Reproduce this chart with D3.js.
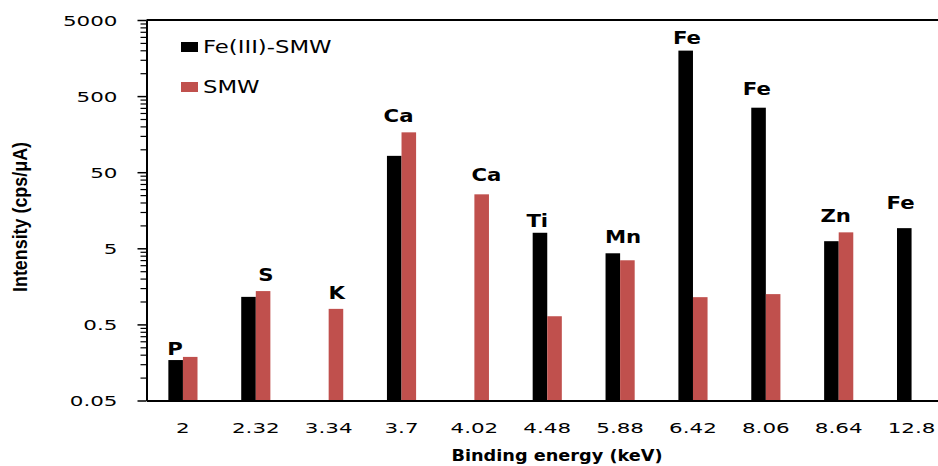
<!DOCTYPE html>
<html>
<head>
<meta charset="utf-8">
<script src="https://cdn.jsdelivr.net/npm/d3@7"></script>
<style>
  body { margin: 0; background: #fff; }
  svg { display: block; }
</style>
</head>
<body>
<svg id="chart"></svg>
<script>
// Data
const energies = ["2", "2.32", "3.34", "3.7", "4.02", "4.48", "5.88", "6.42", "8.06", "8.64", "12.8"];
const elements = ["P", "S", "K", "Ca", "Ca", "Ti", "Mn", "Fe", "Fe", "Zn", "Fe"];
const feSmw = [0.17, 1.15, null, 82, null, 8.0, 4.3, 1980, 352, 6.2, 9.2];
const smw = [0.187, 1.37, 0.8, 167, 25.6, 0.64, 3.48, 1.14, 1.25, 8.1, null];
const seriesNames = ["Fe(III)-SMW", "SMW"];
const yTicks = [0.05, 0.5, 5, 50, 500, 5000];
// small nudges for the element labels (px), as placed in the original
const labelNudge = [-8, 10, 8, -3, 12, -10, 3, -6, -9, -3, -11];
const labelLift = [2, 10, 10, 10, 13, 6, 10, 7, 13, 10, 19];

const width = 938, height = 466;
const colors = ["#000000", "#c0504d"];
const svg = d3.select("#chart").attr("width", width).attr("height", height);

const mLeft = 146.5, mTop = 20, mBottom = 400.5, mRight = 948;

const x = d3.scaleBand().domain(energies).range([mLeft, mRight])
  .paddingInner(0.6).paddingOuter(0.3);
const xs = d3.scaleBand().domain([0, 1]).range([0, x.bandwidth()]);
const y = d3.scaleLog().domain([0.05, 5000]).range([mBottom, mTop]);

const rows = energies.map((e, i) => ({ e, el: elements[i], vals: [feSmw[i], smw[i]], i }));

// bars
const grp = svg.append("g").selectAll("g").data(rows).join("g")
  .attr("transform", (d) => `translate(${x(d.e)},0)`);
grp.selectAll("rect")
  .data((d) => d.vals.map((v, k) => ({ v, k })).filter((b) => b.v != null))
  .join("rect")
  .attr("x", (b) => xs(b.k))
  .attr("width", xs.bandwidth())
  .attr("y", (b) => y(b.v))
  .attr("height", (b) => mBottom - y(b.v))
  .attr("fill", (b) => colors[b.k]);

// element labels
svg.append("g").selectAll("text").data(rows).join("text")
  .attr("transform", (d) => {
    const hi = d3.max(d.vals.filter((v) => v != null));
    return `translate(${x(d.e) + x.bandwidth() / 2 + labelNudge[d.i]},${y(hi) - labelLift[d.i]}) scale(1.18,1)`;
  })
  .attr("text-anchor", "middle")
  .attr("font-family", "DejaVu Sans")
  .attr("font-weight", "bold")
  .attr("font-size", 18)
  .text((d) => d.el);

// y axis minor ticks
const minor = [];
yTicks.slice(0, -1).forEach((t) => {
  for (let k = 2; k <= 9; k++) minor.push(t * k);
});
svg.append("g").attr("transform", `translate(${mLeft},0)`)
  .call(d3.axisLeft(y).tickValues(minor).tickSize(6).tickSizeOuter(0).tickFormat(""))
  .call((g) => g.select(".domain").remove())
  .call((g) => g.selectAll("line").attr("stroke-width", 1.2));

// y axis major
const yAxisG = svg.append("g").attr("transform", `translate(${mLeft},0)`)
  .call(d3.axisLeft(y).tickValues(yTicks).tickSize(9).tickSizeOuter(0).tickFormat((d) => String(d)));
yAxisG.select(".domain").attr("stroke-width", 2);
yAxisG.selectAll("line").attr("stroke-width", 1.5);
yAxisG.selectAll("text")
  .attr("x", 0)
  .attr("dy", "0.36em")
  .attr("transform", "translate(-29,0) scale(1.47,1)")
  .attr("font-family", "DejaVu Sans")
  .attr("font-size", 14.6)
  .attr("fill", "#000");

// x axis
const xAxisG = svg.append("g").attr("transform", `translate(0,${mBottom})`)
  .call(d3.axisBottom(x).tickSize(0).tickSizeOuter(0).tickPadding(22));
xAxisG.select(".domain").attr("stroke-width", 2);
xAxisG.selectAll("text")
  .attr("transform", "scale(1.47,1)")
  .attr("font-family", "DejaVu Sans")
  .attr("font-size", 14.6)
  .attr("fill", "#000");

// top frame line
svg.append("line")
  .attr("x1", mLeft).attr("x2", mRight).attr("y1", mTop).attr("y2", mTop)
  .attr("stroke", "#000").attr("stroke-width", 2);

// axis titles
svg.append("text")
  .attr("transform", `translate(557,461) scale(1.18,1)`)
  .attr("text-anchor", "middle")
  .attr("font-family", "DejaVu Sans")
  .attr("font-weight", "bold")
  .attr("font-size", 15)
  .text("Binding energy (keV)");

svg.append("text")
  .attr("transform", `translate(27,217) scale(1.15,1) rotate(-90)`)
  .attr("text-anchor", "middle")
  .attr("font-family", "Liberation Sans")
  .attr("font-weight", "bold")
  .attr("font-size", 17)
  .attr("textLength", 150)
  .attr("lengthAdjust", "spacingAndGlyphs")
  .text("Intensity (cps/\u03bcA)");

// legend
const legend = svg.append("g").selectAll("g").data(seriesNames).join("g")
  .attr("transform", (d, i) => `translate(181,${42 + i * 40})`);
legend.append("rect").attr("width", 17).attr("height", 10)
  .attr("fill", (d, i) => colors[i]);
legend.append("text")
  .attr("transform", "translate(22,11) scale(1.34,1)")
  .attr("font-family", "DejaVu Sans")
  .attr("font-size", 17)
  .text((d) => d);
</script>
</body>
</html>
